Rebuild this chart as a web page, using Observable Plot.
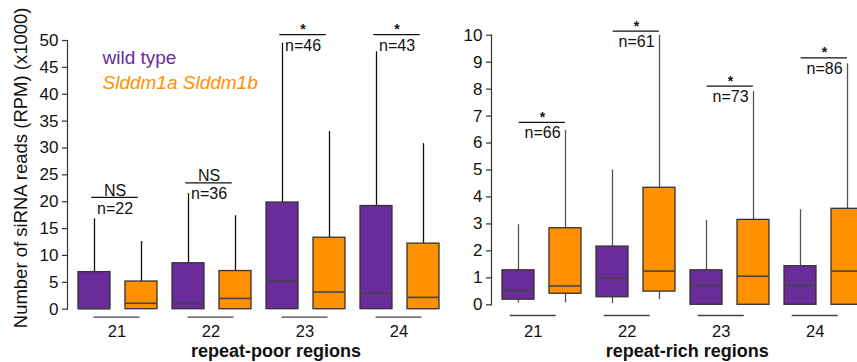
<!DOCTYPE html>
<html><head><meta charset="utf-8">
<script src="https://cdn.jsdelivr.net/npm/d3@7"></script>
<script src="https://cdn.jsdelivr.net/npm/@observablehq/plot@0.6"></script>
<style>
html,body{margin:0;padding:0;background:#fff;overflow:hidden;}
#wrap{display:flex;width:857px;height:362px;overflow:hidden;}
#wrap svg{max-width:none;flex:none;overflow:visible;}
</style></head><body><div id="wrap"></div>
<script>
// ---- data ----
const sizes = ["21", "22", "23", "24"];
const genotypes = ["wild type", "Slddm1a Slddm1b"];
const yTitle = "Number of siRNA reads (RPM) (x1000)";
const leftTitle = "repeat-poor regions";
const rightTitle = "repeat-rich regions";

// repeat-poor regions (x1000 RPM)
const poorTicks = [0, 5, 10, 15, 20, 25, 30, 35, 40, 45, 50];
const poorWtLow = [0, 0, 0, 0];
const poorWtQ1 = [0, 0, 0, 0];
const poorWtMedian = [0.1, 1.05, 5.2, 3.0];
const poorWtQ3 = [6.9, 8.55, 19.85, 19.2];
const poorWtHigh = [16.8, 21.5, 49.5, 47.9];
const poorMutLow = [0, 0, 0, 0];
const poorMutQ1 = [0, 0, 0, 0];
const poorMutMedian = [1.1, 2.0, 3.2, 2.2];
const poorMutQ3 = [5.15, 7.1, 13.3, 12.2];
const poorMutHigh = [12.6, 17.4, 33.1, 30.8];
const poorN = [22, 36, 46, 43];
const poorSig = ["NS", "NS", "*", "*"];
const poorSigLevel = [20.8, 23.5, 51.1, 51.1];

// repeat-rich regions
const richTicks = [0, 1, 2, 3, 4, 5, 6, 7, 8, 9, 10];
const richWtLow = [0.06, 0.04, 0, 0];
const richWtQ1 = [0.19, 0.28, 0, 0];
const richWtMedian = [0.53, 0.99, 0.72, 0.72];
const richWtQ3 = [1.28, 2.16, 1.28, 1.43];
const richWtHigh = [2.97, 5.0, 3.13, 3.53];
const richMutLow = [0.07, 0.19, 0, 0];
const richMutQ1 = [0.41, 0.49, 0, 0];
const richMutMedian = [0.70, 1.25, 1.06, 1.25];
const richMutQ3 = [2.84, 4.34, 3.15, 3.56];
const richMutHigh = [6.47, 10.0, 7.91, 8.94];
const richN = [66, 61, 73, 86];
const richSig = ["*", "*", "*", "*"];
const richSigLevel = [6.77, 10.15, 8.11, 9.16];

// ---- styling ----
const FONT = '"Liberation Sans", Arial, Helvetica, sans-serif';
const PURPLE = "#6a2c9b";
const ORANGE = "#ff9000";

const keys = sizes.flatMap(s => [s + "|wt", s + "|mut"]);

function rows(wl, wq1, wm, wq3, wh, ml, mq1, mm, mq3, mh) {
  return sizes.flatMap((s, i) => [
    {key: s + "|wt", geno: genotypes[0], low: wl[i], q1: wq1[i], med: wm[i], q3: wq3[i], high: wh[i]},
    {key: s + "|mut", geno: genotypes[1], low: ml[i], q1: mq1[i], med: mm[i], q3: mq3[i], high: mh[i]}
  ]);
}
function groups(n, sig, level) {
  return sizes.map((s, i) => ({size: s, wtKey: s + "|wt", mutKey: s + "|mut", n: n[i], sig: sig[i], level: level[i]}));
}

function panel(o) {
  const data = o.data, ann = o.ann;
  const annKey = o.anchor === "wt" ? "wtKey" : "mutKey";
  return Plot.plot({
    width: o.width, height: 362,
    marginTop: o.mt, marginBottom: o.mb, marginLeft: o.ml, marginRight: 0,
    style: {fontFamily: FONT, fontSize: "16px", background: "transparent", color: "#111"},
    x: {type: "band", domain: keys, range: o.xr, paddingInner: 0.32, paddingOuter: o.po, axis: null},
    y: {domain: o.ydom, axis: null},
    color: {domain: genotypes, range: [PURPLE, ORANGE]},
    marks: [
      Plot.frame({anchor: "left", stroke: "#333", strokeWidth: 1.2}),
      Plot.axisY({ticks: o.ticks, tickSize: 5, tickPadding: 4, label: null, fontSize: 17, stroke: "#333", fill: "#111", strokeWidth: 1.2}),
      // whiskers
      Plot.ruleX(data, {x: "key", y1: "q3", y2: "high", stroke: o.whisker, strokeWidth: 1.3}),
      Plot.ruleX(data.filter(d => d.q1 > d.low), {x: "key", y1: "low", y2: "q1", stroke: o.whisker, strokeWidth: 1.3}),
      // boxes
      Plot.barY(data, {x: "key", y1: "q1", y2: "q3", fill: "geno", stroke: "#333", strokeWidth: 1.3}),
      Plot.tickY(data, {x: "key", y: "med", stroke: "#444", strokeWidth: 1.6}),
      // annotations
      Plot.ruleY(ann, {x1: annKey, x2: annKey, y: "level", stroke: "#111", strokeWidth: 1.3,
        insetLeft: o.insL, insetRight: o.insR}),
      Plot.text(ann, {filter: d => d.sig === "NS", x: annKey, y: "level", text: "sig", dx: o.tdx, dy: -7, fontSize: 16, fill: "#111"}),
      Plot.text(ann, {filter: d => d.sig === "*", x: annKey, y: "level", text: "sig", dx: o.tdx, dy: -5, fontSize: 14, fontWeight: "bold", fill: "#111"}),
      Plot.text(ann, {x: annKey, y: "level", text: d => "n=" + d.n, dx: o.tdx, dy: 11, fontSize: 16, fill: "#111"}),
      // group labels and underlines
      Plot.ruleY(ann, {x1: "wtKey", x2: "wtKey", y: () => o.ydom[0], dx: o.gdx, dy: o.udy, insetLeft: -7, insetRight: -7, stroke: "#444", strokeWidth: 1.3}),
      Plot.text(ann, {x: "wtKey", y: () => o.ydom[0], text: "size", dx: o.gdx, dy: o.ldy, fontSize: 16.5, fill: "#111"}),
      Plot.text([o.title], {frameAnchor: "bottom", textAnchor: "middle", lineAnchor: "middle", dx: o.titleDx, dy: o.titleDy, fontSize: 18, fontWeight: "bold", fill: "#111"}),
      ...(o.extra || [])
    ]
  });
}

const left = panel({
  width: 450, mt: 40, mb: 53.3, ml: 67, xr: [67, 449.6], po: 0.17,
  ydom: [0, 50], ticks: poorTicks, whisker: "#111",
  data: rows(poorWtLow, poorWtQ1, poorWtMedian, poorWtQ3, poorWtHigh, poorMutLow, poorMutQ1, poorMutMedian, poorMutQ3, poorMutHigh),
  ann: groups(poorN, poorSig, poorSigLevel),
  anchor: "wt", insL: 13.25, insR: -27.75, tdx: 20.5,
  gdx: 22.5, udy: 8, ldy: 23, title: leftTitle, titleDx: 17, titleDy: 42,
  extra: [
    Plot.text([genotypes[0]], {frameAnchor: "top-left", lineAnchor: "middle", dx: 35, dy: 17, fill: d => d, fontSize: 19, textAnchor: "start"}),
    Plot.text([genotypes[1]], {frameAnchor: "top-left", lineAnchor: "middle", dx: 35, dy: 42, fill: d => d, fontSize: 19, fontStyle: "italic", textAnchor: "start"}),
    Plot.text([yTitle], {frameAnchor: "left", textAnchor: "middle", lineAnchor: "middle", rotate: -90, dx: -46, dy: -7, fontSize: 18.5, fill: "#111"})
  ]
});

const right = panel({
  width: 407, mt: 34.7, mb: 57.7, ml: 41, xr: [41, 423.4], po: 0.163,
  ydom: [0, 10], ticks: richTicks, whisker: "#555",
  data: rows(richWtLow, richWtQ1, richWtMedian, richWtQ3, richWtHigh, richMutLow, richMutQ1, richMutMedian, richMutQ3, richMutHigh),
  ann: groups(richN, richSig, richSigLevel),
  anchor: "mut", insL: -30.35, insR: 16.15, tdx: -23,
  gdx: 14.7, udy: 10.7, ldy: 27, title: rightTitle, titleDx: 12.7, titleDy: 46
});

document.getElementById("wrap").append(left, right);
</script></body></html>
